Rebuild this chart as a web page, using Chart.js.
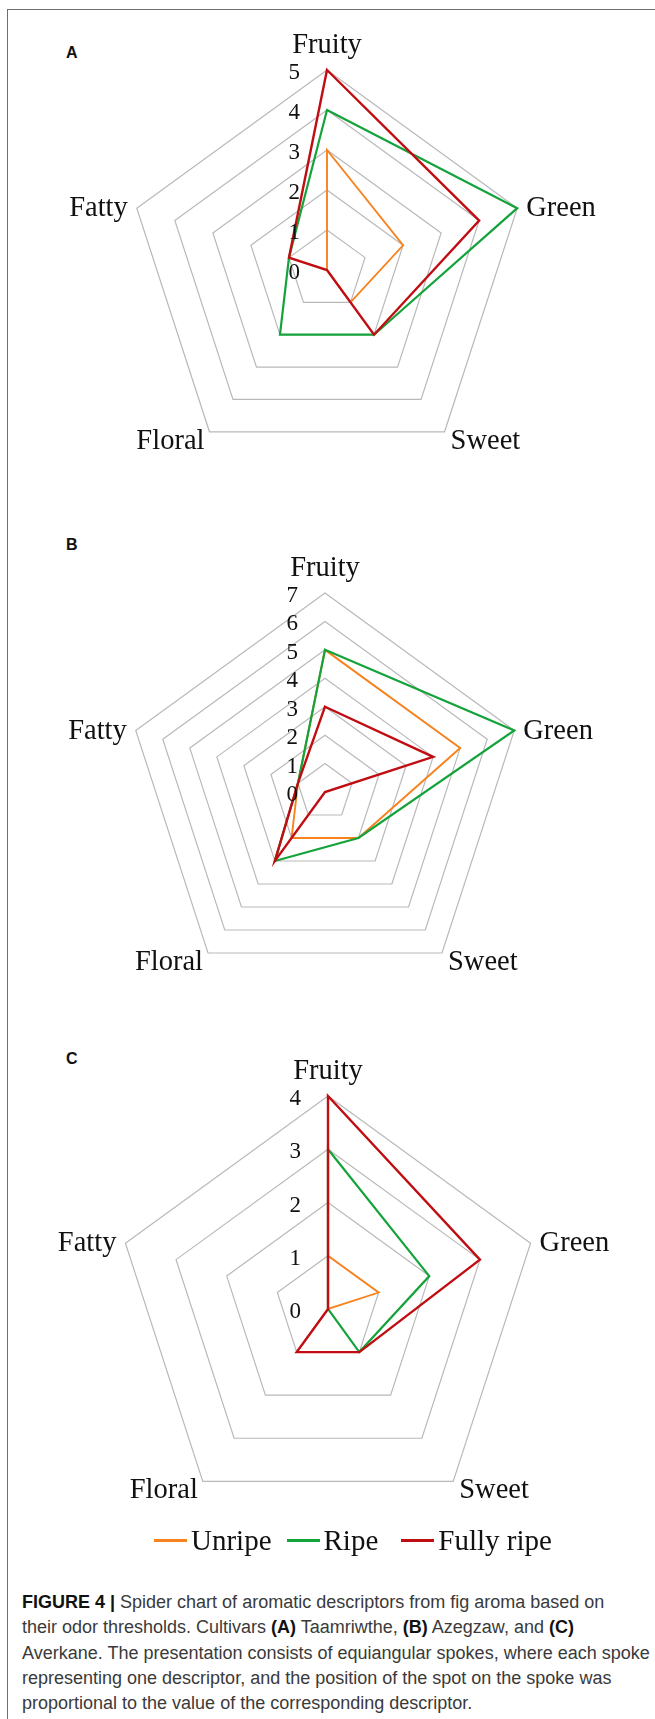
<!DOCTYPE html>
<html>
<head>
<meta charset="utf-8">
<script src="https://cdn.jsdelivr.net/npm/chart.js@4.4.0/dist/chart.umd.min.js"></script>
<style>
  html, body { margin: 0; padding: 0; background: #fff; }
  #page { position: relative; width: 655px; height: 1719px; overflow: hidden; }
  #frame { position: absolute; left: 7px; top: 9px; width: 700px; height: 1800px;
           border-left: 1.5px solid #6e6e6e; border-top: 1.5px solid #6e6e6e; }
  canvas { position: absolute; left: 0; }
  .panel { position: absolute; left: 66px; font: bold 16px "Liberation Sans", Arial, sans-serif; color: #111; }
  #legend { position: absolute; left: 154px; top: 1524px; display: flex; align-items: center;
            font: 29px "Liberation Serif", "Times New Roman", serif; color: #111; white-space: nowrap; }
  #legend span.sw { display: inline-block; width: 33px; height: 2.2px; margin-right: 4px; }
  #legend span.item { display: inline-flex; align-items: center; margin-right: 15px; }
  #caption { position: absolute; left: 22px; top: 1590px; font: 18px "Liberation Sans", Arial, sans-serif;
             color: #3a3a3a; line-height: 25.3px; white-space: nowrap; }
  #caption b { color: #111; }
</style>
</head>
<body>
<div id="page">
  <div id="frame"></div>
  <div class="panel" style="top:44px">A</div>
  <div class="panel" style="top:536px">B</div>
  <div class="panel" style="top:1050px">C</div>
  <canvas id="chartA" width="655" height="500" style="top:0px"></canvas>
  <canvas id="chartB" width="655" height="510" style="top:500px"></canvas>
  <canvas id="chartC" width="655" height="520" style="top:1010px"></canvas>
  <div id="legend"></div>
  <div id="caption">
    <b>FIGURE 4 |</b> Spider chart of aromatic descriptors from fig aroma based on<br>
    their odor thresholds. Cultivars <b>(A)</b> Taamriwthe, <b>(B)</b> Azegzaw, and <b>(C)</b><br>
    Averkane. The presentation consists of equiangular spokes, where each spoke<br>
    representing one descriptor, and the position of the spot on the spoke was<br>
    proportional to the value of the corresponding descriptor.
  </div>
</div>
<script>
// descriptors and series
const descriptors = ['Fruity', 'Green', 'Sweet', 'Floral', 'Fatty'];
const seriesNames = ['Unripe', 'Ripe', 'Fully ripe'];
const seriesColors = ['#f8821e', '#14a33a', '#c00d12'];

// (A) Taamriwthe
const unripeA = [3, 2, 1, 0, 0];
const ripeA = [4, 5, 2, 2, 1];
const fullyRipeA = [5, 4, 2, 0, 1];
const ticksA = [0, 1, 2, 3, 4, 5];

// (B) Azegzaw
const unripeB = [5, 5, 2, 2, 1];
const ripeB = [5, 7, 2, 3, 1];
const fullyRipeB = [3, 4, 0, 3, 1];
const ticksB = [0, 1, 2, 3, 4, 5, 6, 7];

// (C) Averkane
const unripeC = [1, 1, 0, 0, 0];
const ripeC = [3, 2, 1, 0, 0];
const fullyRipeC = [4, 3, 1, 1, 0];
const ticksC = [0, 1, 2, 3, 4];

var serif = '"Liberation Serif", "Times New Roman", serif';

// point labels and tick numbers placed like the excel original
var radarText = {
  id: 'radarText',
  afterDraw: function(chart) {
    var s = chart.scales.r;
    var ctx = chart.ctx;
    ctx.save();
    ctx.fillStyle = '#111';
    ctx.textBaseline = 'alphabetic';
    ctx.font = '28.5px ' + serif;
    chart.data.labels.forEach(function(lab, i) {
      var p = s.getPointPosition(i, s.drawingArea);
      if (i === 0) { ctx.textAlign = 'center'; ctx.fillText(lab, p.x, p.y - 17); }
      if (i === 1) { ctx.textAlign = 'left'; ctx.fillText(lab, p.x + 9, p.y + 8); }
      if (i === 2) { ctx.textAlign = 'left'; ctx.fillText(lab, p.x + 6, p.y + 17); }
      if (i === 3) { ctx.textAlign = 'right'; ctx.fillText(lab, p.x - 5, p.y + 17); }
      if (i === 4) { ctx.textAlign = 'right'; ctx.fillText(lab, p.x - 9, p.y + 8); }
    });
    ctx.font = '23px ' + serif;
    ctx.textAlign = 'right';
    s.ticks.forEach(function(t) {
      var d = s.getDistanceFromCenterForValue(t.value);
      ctx.fillText(String(t.value), s.xCenter - 27, s.yCenter - d + 9);
    });
    ctx.restore();
  }
};

function makeRadar(id, unripe, ripe, fullyRipe, ticks, pad) {
  var ctx = document.getElementById(id).getContext('2d');
  return new Chart(ctx, {
    type: 'radar',
    data: {
      labels: descriptors,
      datasets: [
        { label: seriesNames[0], data: unripe, borderColor: seriesColors[0], borderWidth: 1.9, order: 2 },
        { label: seriesNames[1], data: ripe, borderColor: seriesColors[1], borderWidth: 2.2, order: 1 },
        { label: seriesNames[2], data: fullyRipe, borderColor: seriesColors[2], borderWidth: 2.4, order: 0 }
      ]
    },
    options: {
      responsive: false,
      animation: false,
      layout: { padding: pad },
      elements: {
        line: { fill: false, tension: 0, borderJoinStyle: 'miter' },
        point: { radius: 0, hoverRadius: 0 }
      },
      plugins: { legend: { display: false }, tooltip: { enabled: false } },
      scales: {
        r: {
          min: ticks[0],
          max: ticks[ticks.length - 1],
          ticks: { display: false, stepSize: 1 },
          grid: { color: '#b9b9b9', lineWidth: 1.2 },
          angleLines: { display: false },
          pointLabels: { display: false }
        }
      }
    },
    plugins: [radarText]
  });
}

var chartA = makeRadar('chartA', unripeA, ripeA, fullyRipeA, ticksA, { left: 127, right: 128, top: 70, bottom: 30 });
var chartB = makeRadar('chartB', unripeB, ripeB, fullyRipeB, ticksB, { left: 126, right: 131, top: 93, bottom: 19 });
var chartC = makeRadar('chartC', unripeC, ripeC, fullyRipeC, ticksC, { left: 115, right: 114, top: 86, bottom: 8 });

// legend built from the series names
var legend = document.getElementById('legend');
seriesNames.forEach(function(name, i) {
  var item = document.createElement('span');
  item.className = 'item';
  if (i === 1) item.style.marginRight = '23px';
  var sw = document.createElement('span');
  sw.className = 'sw';
  sw.style.background = seriesColors[i];
  item.appendChild(sw);
  item.appendChild(document.createTextNode(name));
  legend.appendChild(item);
});
</script>
</body>
</html>
